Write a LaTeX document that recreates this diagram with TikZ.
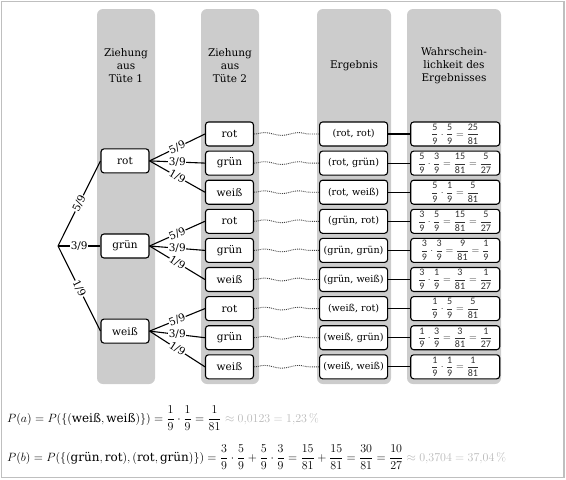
\documentclass[tikz,border=0pt]{standalone}
\usepackage{amsmath}
\usepackage[no-math]{fontspec}
\setmainfont{DejaVu Serif}
\setsansfont{Carlito}
\usepackage{tikz}
\usetikzlibrary{positioning,backgrounds,decorations.pathmorphing}
\tikzstyle{box}=[draw, fill=white, line width=1.1pt, rounded corners=3pt, minimum width=48pt, minimum height=24pt, inner sep=1pt, font=\fontsize{10.5}{12}\selectfont]
\tikzstyle{res}=[box, minimum width=68pt, font=\fontsize{9.6}{12}\selectfont]
\tikzstyle{prob}=[box, minimum width=89pt, inner sep=0pt, font=\fontsize{10}{12}\selectfont\color{black!80}]
\tikzstyle{head}=[align=center, font=\fontsize{10.5}{13}\selectfont]
\tikzstyle{lab}=[fill=white, inner sep=0.5pt, font=\fontsize{10.5}{12}\selectfont]
\tikzstyle{col}=[fill=gray!40, rounded corners=6pt]
\tikzstyle{branch}=[line width=1.1pt]
\tikzstyle{wave}=[densely dotted, line width=0.9pt, black!75, decorate, decoration={snake, amplitude=1.4pt, segment length=34pt}]
\tikzstyle{formula}=[anchor=base west, inner sep=0pt, font=\fontsize{12}{14}\selectfont]
\newcommand{\fr}[2]{\dfrac{\textsf{#1}}{\textsf{#2}}}

\begin{document}
\begin{tikzpicture}[x=1pt,y=1pt]
    \useasboundingbox (0,0) rectangle (566,-480);
    \draw[gray!50, line width=1.5pt] (1.5,-1.5) rectangle (564,-477.5);

    % headers
    \node[head] (h1) at (126,-66) {Ziehung\\aus\\Tüte 1};
    \node[head] (h2) at (230,-66) {Ziehung\\aus\\Tüte 2};
    \node[head] (h3) at (354,-66) {Ergebnis};
    \node[head] (h4) at (454,-66) {Wahrschein-\\lichkeit des\\Ergebnisses};

    % first draw
    \coordinate (s) at (58,-246);
    \node[box] (g) at (125,-246) {grün};
    \node[box] (r) [above = 60pt of g] {rot};
    \node[box] (w) [below = 60pt of g] {weiß};

    % second draw
    \node[box] (rr) at (229.5,-134) {rot};
    \node[box] (rg) [below = 4pt of rr] {grün};
    \node[box] (rw) [below = 4pt of rg] {weiß};
    \node[box] (gr) [below = 4pt of rw] {rot};
    \node[box] (gg) [below = 4pt of gr] {grün};
    \node[box] (gw) [below = 4pt of gg] {weiß};
    \node[box] (wr) [below = 4pt of gw] {rot};
    \node[box] (wg) [below = 4pt of wr] {grün};
    \node[box] (ww) [below = 4pt of wg] {weiß};

    % outcomes
    \node[res] (err) [right = 65pt of rr] {(rot, rot)};
    \node[res] (erg) [right = 65pt of rg] {(rot, grün)};
    \node[res] (erw) [right = 65pt of rw] {(rot, weiß)};
    \node[res] (egr) [right = 65pt of gr] {(grün, rot)};
    \node[res] (egg) [right = 65pt of gg] {(grün, grün)};
    \node[res] (egw) [right = 65pt of gw] {(grün, weiß)};
    \node[res] (ewr) [right = 65pt of wr] {(weiß, rot)};
    \node[res] (ewg) [right = 65pt of wg] {(weiß, grün)};
    \node[res] (eww) [right = 65pt of ww] {(weiß, weiß)};

    % probabilities
    \node[prob] (prr) [right = 22pt of err] {$\fr{5}{9}\cdot\fr{5}{9}=\fr{25}{81}$};
    \node[prob] (prg) [right = 22pt of erg] {$\fr{5}{9}\cdot\fr{3}{9}=\fr{15}{81}=\fr{5}{27}$};
    \node[prob] (prw) [right = 22pt of erw] {$\fr{5}{9}\cdot\fr{1}{9}=\fr{5}{81}$};
    \node[prob] (pgr) [right = 22pt of egr] {$\fr{3}{9}\cdot\fr{5}{9}=\fr{15}{81}=\fr{5}{27}$};
    \node[prob] (pgg) [right = 22pt of egg] {$\fr{3}{9}\cdot\fr{3}{9}=\fr{9}{81}=\fr{1}{9}$};
    \node[prob] (pgw) [right = 22pt of egw] {$\fr{3}{9}\cdot\fr{1}{9}=\fr{3}{81}=\fr{1}{27}$};
    \node[prob] (pwr) [right = 22pt of ewr] {$\fr{1}{9}\cdot\fr{5}{9}=\fr{5}{81}$};
    \node[prob] (pwg) [right = 22pt of ewg] {$\fr{1}{9}\cdot\fr{3}{9}=\fr{3}{81}=\fr{1}{27}$};
    \node[prob] (pww) [right = 22pt of eww] {$\fr{1}{9}\cdot\fr{1}{9}=\fr{1}{81}$};

    \draw[branch] (s) -- node[lab,sloped] {5/9} (r.west);
    \draw[branch] (s) -- node[lab] {3/9} (g.west);
    \draw[branch] (s) -- node[lab,sloped] {1/9} (w.west);
    \draw[branch] (r.east) -- node[lab,sloped] {5/9} (rr.west);
    \draw[branch] (r.east) -- node[lab] {3/9} (rg.west);
    \draw[branch] (r.east) -- node[lab,sloped] {1/9} (rw.west);
    \draw[branch] (g.east) -- node[lab,sloped] {5/9} (gr.west);
    \draw[branch] (g.east) -- node[lab] {3/9} (gg.west);
    \draw[branch] (g.east) -- node[lab,sloped] {1/9} (gw.west);
    \draw[branch] (w.east) -- node[lab,sloped] {5/9} (wr.west);
    \draw[branch] (w.east) -- node[lab] {3/9} (wg.west);
    \draw[branch] (w.east) -- node[lab,sloped] {1/9} (ww.west);

    \draw[wave] (rr.east) -- (err.west);
    \draw[wave] (rg.east) -- (erg.west);
    \draw[wave] (rw.east) -- (erw.west);
    \draw[wave] (gr.east) -- (egr.west);
    \draw[wave] (gg.east) -- (egg.west);
    \draw[wave] (gw.east) -- (egw.west);
    \draw[wave] (wr.east) -- (ewr.west);
    \draw[wave] (wg.east) -- (ewg.west);
    \draw[wave] (ww.east) -- (eww.west);

    \draw[branch] (err) -- (prr);
    \draw[branch] (erg) -- (prg);
    \draw[branch] (erw) -- (prw);
    \draw[branch] (egr) -- (pgr);
    \draw[branch] (egg) -- (pgg);
    \draw[branch] (egw) -- (pgw);
    \draw[branch] (ewr) -- (pwr);
    \draw[branch] (ewg) -- (pwg);
    \draw[branch] (eww) -- (pww);

    % results
    \node[formula] (pa) at (7,-422) {$P(a)=P(\{(\text{weiß},\text{weiß})\})=\dfrac{1}{9}\cdot\dfrac{1}{9}=\dfrac{1}{81}$\textcolor{gray!55}{${}\approx 0{,}0123=1{,}23\,\%$}};
    \node[formula] (pb) at (7,-461) {$P(b)=P(\{(\text{grün},\text{rot}),(\text{rot},\text{grün})\})=\dfrac{3}{9}\cdot\dfrac{5}{9}+\dfrac{5}{9}\cdot\dfrac{3}{9}=\dfrac{15}{81}+\dfrac{15}{81}=\dfrac{30}{81}=\dfrac{10}{27}$\textcolor{gray!55}{${}\approx 0{,}3704=37{,}04\,\%$}};

    \begin{pgfonlayer}{background}
        \fill[col] (97,-9) rectangle (155,-384);
        \fill[col] (201,-9) rectangle (259,-384);
        \fill[col] (317,-9) rectangle (391,-384);
        \fill[col] (407,-9) rectangle (501,-384);
    \end{pgfonlayer}

\end{tikzpicture}
\end{document}
